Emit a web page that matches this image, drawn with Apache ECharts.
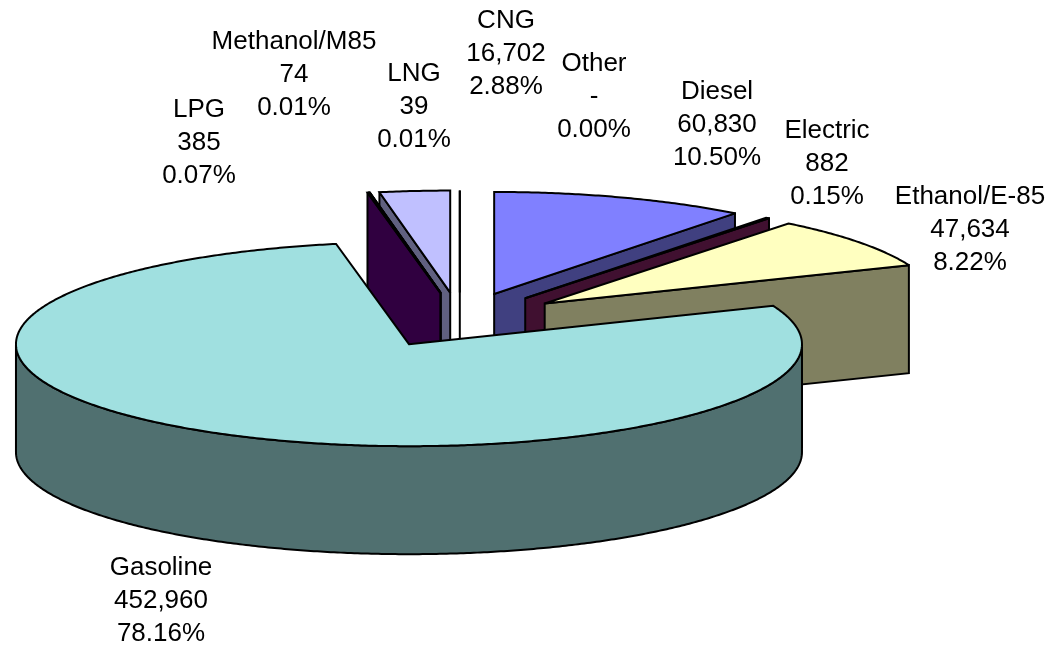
<!DOCTYPE html>
<html><head><meta charset="utf-8">
<style>html,body{margin:0;padding:0;background:#fff}#c{width:1049px;height:649px}</style>
<script src="https://cdn.jsdelivr.net/npm/echarts@6/dist/echarts.min.js"></script>
</head><body><div id="c"></div>
<script>
const categories = ['Diesel','Electric','Ethanol/E-85','Gasoline','LPG','Methanol/M85','LNG','CNG','Other'];
const values = [60830,882,47634,452960,385,74,39,16702,0];
const topColors = ['#8080FF','#802060','#FFFFC0','#A0E0E0','#600080','#0080C0','#000080','#C0C0FF','#FFFFFF'];
const sideColors = ['#404080','#401030','#808060','#507070','#300040','#004060','#000040','#606080','#808080'];
// centre of each three-line label (layout only)
const labelCentres = [[717,125],[827,164],[970,230],[161,601],[199,143],[294,75],[414,107],[506,54],[594,97]];

const pie = {cx:459.8, cy:320, rx:393, ry:102, depth:108, explode:0.27};
const total = values.reduce((a,b)=>a+b,0);
const rad = d => d*Math.PI/180;

// slice angles, clockwise from the top of the pie
let run = 0;
const slices = values.map(v=>{
  const start = run/total*360; run += v;
  const end = run/total*360;
  const mid = (start+end)/2;
  return {start,end,mid,
    ax: pie.cx + pie.explode*pie.rx*Math.sin(rad(mid)),
    ay: pie.cy - pie.explode*pie.ry*Math.cos(rad(mid))};
});
// paint from the back of the pie to the front
const drawOrder = slices.map((s,i)=>i).sort((a,b)=>slices[a].ay-slices[b].ay);

function rim(s,a,dz){ return [s.ax+pie.rx*Math.sin(rad(a)), s.ay-pie.ry*Math.cos(rad(a))+dz]; }
function arc(s,a0,a1,dz){
  const n = Math.max(1,Math.ceil((a1-a0)/0.5)), p=[];
  for(let k=0;k<=n;k++) p.push(rim(s,a0+(a1-a0)*k/n,dz));
  return p;
}
const edge = {stroke:'#000',lineWidth:2,lineJoin:'miter',miterLimit:3};
function poly(points,fill){ return {type:'polygon',shape:{points},style:Object.assign({fill},edge)}; }
function cutFace(s,a,fill){
  const o=rim(s,a,0), d=pie.depth;
  return poly([[s.ax,s.ay],o,[o[0],o[1]+d],[s.ax,s.ay+d]],fill);
}
function labelText(i){
  const v = values[i];
  return categories[i]+'\n'+(v===0?'-':v.toLocaleString('en-US'))+'\n'+(v/total*100).toFixed(2)+'%';
}
function renderItem(params,api){
  const i = api.value(0), s = slices[i], children = [];
  const eps = 1e-9;
  if(Math.sin(rad(s.start))<-eps) children.push(cutFace(s,s.start,sideColors[i]));
  if(Math.sin(rad(s.end))>eps || s.end-s.start<eps) children.push(cutFace(s,s.end,sideColors[i]));
  const w0=Math.max(s.start,90), w1=Math.min(s.end,270);
  if(w1>w0) children.push(poly(arc(s,w0,w1,0).concat(arc(s,w0,w1,pie.depth).reverse()),sideColors[i]));
  children.push(poly([[s.ax,s.ay]].concat(arc(s,s.start,s.end,0)),topColors[i]));
  children.push({type:'text',style:{
    x:labelCentres[i][0],y:labelCentres[i][1],text:labelText(i),fill:'#000',
    font:'26px "Liberation Sans"',align:'center',verticalAlign:'middle',lineHeight:33}});
  return {type:'group',children};
}
const chart = echarts.init(document.getElementById('c'),null,{renderer:'canvas'});
chart.setOption({
  animation:false,
  backgroundColor:'#fff',
  series:[{type:'custom',coordinateSystem:'none',renderItem,silent:true,
    data:drawOrder.map(i=>[i,values[i]])}]
});
</script></body></html>
